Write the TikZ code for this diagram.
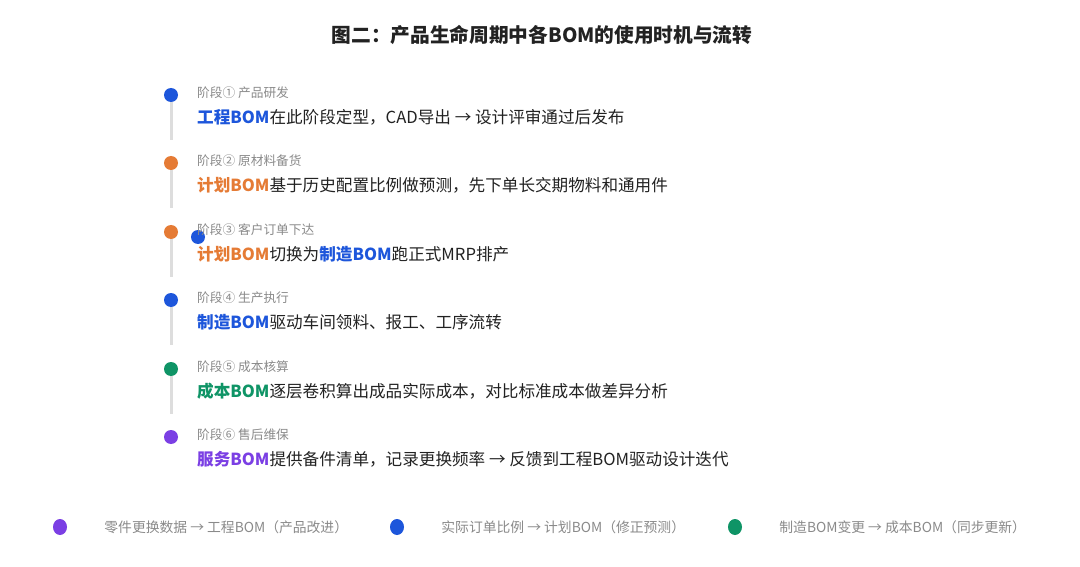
\documentclass[tikz,border=0pt]{standalone}
\usepackage{fontspec}
\setmainfont{Noto Sans CJK SC}
\usetikzlibrary{positioning,shapes.geometric}
\definecolor{bomblue}{HTML}{1D56DB}
\definecolor{bomorange}{HTML}{E57B35}
\definecolor{bomgreen}{HTML}{0F9466}
\definecolor{bompurple}{HTML}{7B3FE4}
\definecolor{railgray}{HTML}{DDDDDD}
\definecolor{lblgray}{HTML}{8A8A8A}
\definecolor{txtdark}{HTML}{222222}

\begin{document}
\begin{tikzpicture}[x=1pt,y=-1pt]
      \useasboundingbox[fill=white] (0,0) rectangle (1080,567);
      \node[font=\bfseries\fontsize{19.7}{23}\selectfont, text=txtdark] (title) at (542,35)
        {图二：产品生命周期中各BOM的使用时机与流转};
      % rail segments under the stage dots
      \begin{scope}[every path/.style={draw=railgray, line width=3pt}]
        \coordinate (r1) at (171,140);
        \coordinate (r2) at (171,208);
        \coordinate (r3) at (171,277);
        \coordinate (r4) at (171,345);
        \coordinate (r5) at (171,414);
        \path (171,95) -- (r1);
        \path (171,163) -- (r2);
        \path (171,232) -- (r3);
        \path (171,300) -- (r4);
        \path (171,369) -- (r5);
      \end{scope}
      \begin{scope}[every node/.style={circle,inner sep=0pt,minimum size=14pt}]
        \node[fill=bomblue] (d1) at (171,95) {};
        \node[fill=bomorange] (d2) at (171,163) {};
        \node[fill=bomorange] (d3) at (171,232) {};
        \node[fill=bomblue] (d3b) at (198,237) {};
        \node[fill=bomblue] (d4) at (171,300) {};
        \node[fill=bomgreen] (d5) at (171,369) {};
        \node[fill=bompurple] (d6) at (171,437) {};
      \end{scope}
      \begin{scope}[every node/.style={anchor=west,inner sep=0pt,text=lblgray,
          font=\fontsize{12.7}{15}\selectfont}]
        \node (l1) at (197,93) {阶段① 产品研发};
        \node (l2) at (197,161) {阶段② 原材料备货};
        \node (l3) at (197,230) {阶段③ 客户订单下达};
        \node (l4) at (197,298) {阶段④ 生产执行};
        \node (l5) at (197,367) {阶段⑤ 成本核算};
        \node (l6) at (197,435) {阶段⑥ 售后维保};
      \end{scope}
      \begin{scope}[every node/.style={anchor=west,inner sep=0pt,text=txtdark,
          font=\fontsize{16.6}{19}\selectfont}]
        \node (t1) at (197,117) {\textcolor{bomblue}{\bfseries 工程BOM}在此阶段定型，CAD导出 → 设计评审通过后发布};
        \node (t2) at (197,185) {\textcolor{bomorange}{\bfseries 计划BOM}基于历史配置比例做预测，先下单长交期物料和通用件};
        \node (t3) at (197,254) {\textcolor{bomorange}{\bfseries 计划BOM}切换为\textcolor{bomblue}{\bfseries 制造BOM}跑正式MRP排产};
        \node (t4) at (197,322) {\textcolor{bomblue}{\bfseries 制造BOM}驱动车间领料、报工、工序流转};
        \node (t5) at (197,391) {\textcolor{bomgreen}{\bfseries 成本BOM}逐层卷积算出成品实际成本，对比标准成本做差异分析};
        \node (t6) at (197,459) {\textcolor{bompurple}{\bfseries 服务BOM}提供备件清单，记录更换频率 → 反馈到工程BOM驱动设计迭代};
      \end{scope}
      % feedback legend
      \begin{scope}[every node/.style={ellipse,inner sep=0pt,minimum width=14pt,minimum height=16pt}]
        \node[fill=bompurple] (k1) at (60,527) {};
        \node[fill=bomblue] (k2) at (397,527) {};
        \node[fill=bomgreen] (k3) at (735,527) {};
      \end{scope}
      \begin{scope}[every node/.style={anchor=west,inner sep=0pt,text=lblgray,
          font=\fontsize{13.8}{16}\selectfont}]
        \node (f1) [right=37pt of k1] {零件更换数据 → 工程BOM（产品改进）};
        \node (f2) [right=37pt of k2] {实际订单比例 → 计划BOM（修正预测）};
        \node (f3) [right=37pt of k3] {制造BOM变更 → 成本BOM（同步更新）};
      \end{scope}
    \end{tikzpicture}
\end{document}
